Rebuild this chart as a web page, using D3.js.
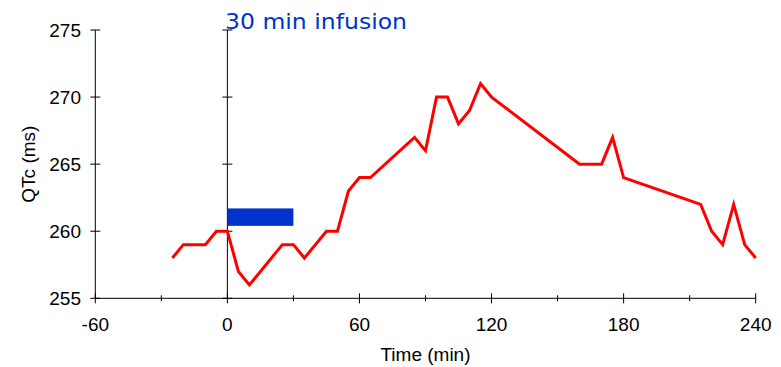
<!DOCTYPE html>
<html><head><meta charset="utf-8">
<script src="https://cdn.jsdelivr.net/npm/d3@7"></script>
<style>body{margin:0;background:#fff}svg{display:block}</style>
</head><body>
<svg id="c" width="781" height="367"></svg>
<script>
const times = [-25,-20,-10,-5,0,5,10,25,30,35,45,50,55,60,65,85,90,95,100,105,110,115,120,160,170,175,180,215,220,225,230,235,240];
const qtc   = [258,259,259,260,260,257,256,259,259,258,260,260,263,264,264,267,266,270,270,268,269,271,270,265,265,267,264,262,260,259,262,259,258];
const xTicks = [-60,0,60,120,180,240];
const xMinor = [-30,30,90,150,210];
const yTicks = [255,260,265,270,275];
const infusion = {start:0, end:30, low:260.4, high:261.7};
const annotation = "30 min infusion";

const svg = d3.select("#c");
const x = d3.scaleLinear().domain([-60,240]).range([95.3,755.7]);
const y = d3.scaleLinear().domain([255,275]).range([298.3,30]);
const font = "Liberation Sans, Arial, sans-serif";

// x axis
const xa = svg.append("g").attr("transform",`translate(0,${y(255)})`);
xa.append("line").attr("x1",x(-60)).attr("x2",x(240)).attr("stroke","#000");
xa.selectAll(".mj").data(xTicks).join("line").attr("x1",d=>x(d)).attr("x2",d=>x(d)).attr("y1",-5).attr("y2",5).attr("stroke","#000");
xa.selectAll(".mn").data(xMinor).join("line").attr("x1",d=>x(d)).attr("x2",d=>x(d)).attr("y1",-3).attr("y2",3).attr("stroke","#000");
xa.selectAll("text").data(xTicks).join("text").attr("x",d=>x(d)).attr("y",33).attr("text-anchor","middle")
  .attr("font-family",font).attr("font-size",19).text(d=>d);

// y axis at -60 and at 0
[-60,0].forEach(xv=>{
  const g = svg.append("g").attr("transform",`translate(${x(xv)},0)`);
  g.append("line").attr("y1",y(255)).attr("y2",y(275)).attr("stroke","#000");
  g.selectAll("line.t").data(yTicks).join("line").attr("class","t").attr("x1",-5).attr("x2",5).attr("y1",d=>y(d)).attr("y2",d=>y(d)).attr("stroke","#000");
});
svg.append("g").selectAll("text").data(yTicks).join("text").attr("x",81).attr("y",d=>y(d)+7)
  .attr("text-anchor","end").attr("font-family",font).attr("font-size",19).text(d=>d);

svg.append("text").attr("x",(x(-60)+x(240))/2).attr("y",361).attr("text-anchor","middle")
  .attr("font-family",font).attr("font-size",19).text("Time (min)");
svg.append("text").attr("transform",`translate(35,${(y(255)+y(275))/2}) rotate(-90)`).attr("text-anchor","middle")
  .attr("font-family",font).attr("font-size",19).text("QTc (ms)");

// infusion bar
svg.append("rect").attr("x",x(infusion.start)).attr("width",x(infusion.end)-x(infusion.start))
  .attr("y",y(infusion.high)).attr("height",y(infusion.low)-y(infusion.high)).attr("fill","#0033cc");

// line
svg.append("path").datum(times.map((t,i)=>[t,qtc[i]]))
  .attr("d",d3.line().x(d=>x(d[0])).y(d=>y(d[1])))
  .attr("fill","none").attr("stroke","#ff0000").attr("stroke-width",3).attr("stroke-linejoin","miter");

svg.append("text").attr("x",225).attr("y",29).attr("font-family","DejaVu Sans, sans-serif").attr("font-size",22)
  .attr("fill","#0033cc").attr("textLength",182).attr("lengthAdjust","spacingAndGlyphs").text(annotation);
</script>
</body></html>
